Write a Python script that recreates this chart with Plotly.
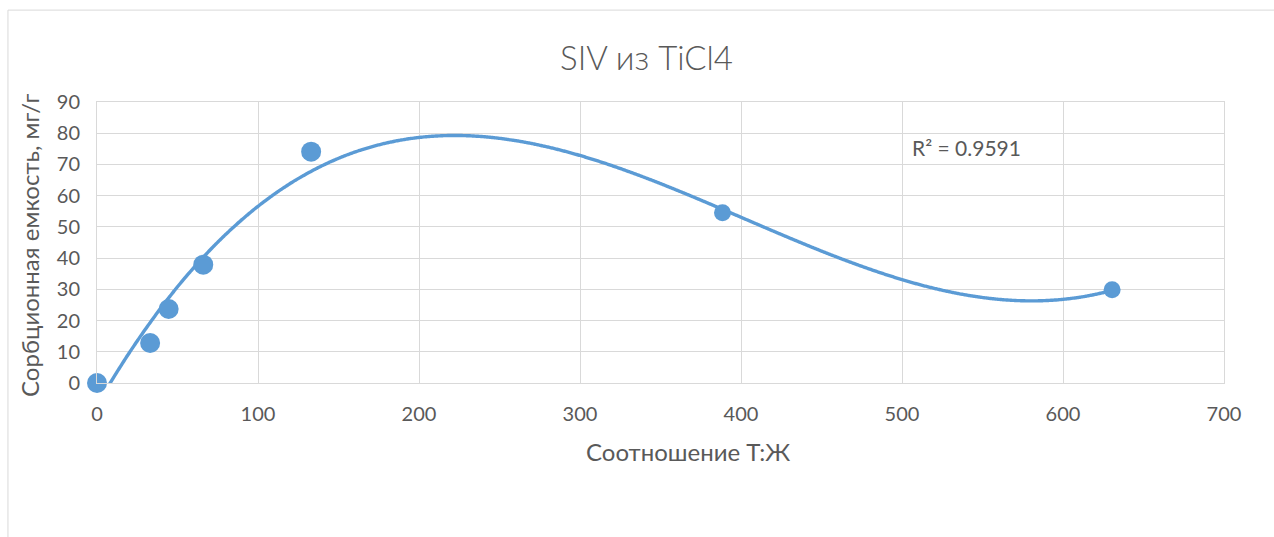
import numpy as np
import plotly.graph_objects as go

# Data
ratio = [0, 33, 44.5, 66, 133, 388.5, 630.5]          # Соотношение Т:Ж
capacity = [0, 12.8, 23.7, 37.9, 74.1, 54.5, 29.9]     # Сорбционная емкость, мг/г
marker_sizes = [20, 20, 20, 20, 20, 17, 17]

x_ticks = [0, 100, 200, 300, 400, 500, 600, 700]
y_ticks = [0, 10, 20, 30, 40, 50, 60, 70, 80, 90]
r2_text = "R² = 0.9591"
x_title = "Соотношение Т:Ж"
y_title = "Сорбционная емкость, мг/г"

# Polynomial (3rd order) trendline, as in the original spreadsheet
coef = np.polyfit(ratio, capacity, 3)
xt = np.linspace(min(ratio), max(ratio), 600)
yt = np.polyval(coef, xt)

color = "#5b9bd5"
grey = "#595959"
font_family = "Lato, Open Sans, sans-serif"

fig = go.Figure()
fig.add_trace(go.Scatter(x=xt, y=yt, mode="lines",
                         line=dict(color=color, width=3.4, shape="spline"),
                         hoverinfo="skip", showlegend=False))
fig.add_trace(go.Scatter(x=ratio, y=capacity, mode="markers",
                         marker=dict(color=color, size=marker_sizes, opacity=1,
                                     line=dict(width=0)),
                         showlegend=False, cliponaxis=False))

fig.add_annotation(x=505, y=75.5, text=r2_text, showarrow=False,
                   xanchor="left", yanchor="middle",
                   font=dict(size=21, color=grey, family=font_family))

# axis titles
fig.add_annotation(xref="paper", yref="paper", x=0.5244, y=-0.242,
                   text=x_title, showarrow=False, xanchor="center", yanchor="middle",
                   font=dict(size=24, color=grey, family=font_family))
fig.add_annotation(xref="paper", yref="paper", x=-0.0604, y=0.491,
                   text=y_title, showarrow=False, xanchor="center", yanchor="middle",
                   textangle=-90,
                   font=dict(size=24, color=grey, family=font_family))

# chart-area border
fig.add_shape(type="rect", xref="paper", yref="paper",
              x0=-0.079, x1=1.06, y0=-0.6, y1=1.327,
              line=dict(color="#d9d9d9", width=1), layer="below")

fig.update_layout(
    width=1274, height=537,
    margin=dict(l=97, r=50, t=102, b=154),
    paper_bgcolor="white", plot_bgcolor="white",
    font=dict(family=font_family, color=grey, size=20),
    title=dict(text="SIV из TiCl4", x=646.5 / 1274, xanchor="center",
               y=1 - 58 / 537, yanchor="middle",
               font=dict(size=33, color=grey, family=font_family, weight=300)),
)
fig.update_xaxes(range=[0, 700], tickvals=x_ticks, showgrid=True,
                 gridcolor="#d9d9d9", gridwidth=1, zeroline=False,
                 showline=True, linecolor="#d9d9d9", mirror=True,
                 ticks="", ticklabelstandoff=13,
                 tickfont=dict(size=20, color=grey))
fig.update_yaxes(range=[0, 90], tickvals=y_ticks, showgrid=True,
                 gridcolor="#d9d9d9", gridwidth=1, zeroline=False,
                 showline=True, linecolor="#d9d9d9", mirror=True,
                 ticks="", ticklabelstandoff=12,
                 tickfont=dict(size=20, color=grey))

fig.write_html("out.html")
